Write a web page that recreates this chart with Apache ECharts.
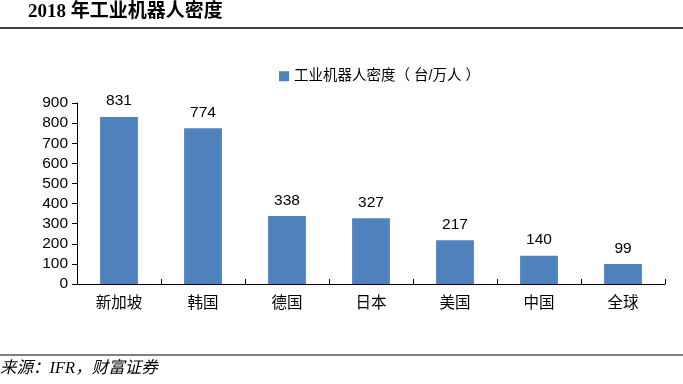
<!DOCTYPE html>
<html><head><meta charset="utf-8">
<script src="https://cdn.jsdelivr.net/npm/echarts@6/dist/echarts.min.js"></script>
<style>html,body{margin:0;padding:0;background:#fff}#c{width:683px;height:384px}</style>
</head><body><div id="c"></div>
<script>
var categories = ['新加坡','韩国','德国','日本','美国','中国','全球'];
var values = [831, 774, 338, 327, 217, 140, 99];
var seriesName = '工业机器人密度（ 台/万人 ）';
var titleText = '2018 年工业机器人密度';
var sourceText = '来源：IFR，财富证券';

var chart = echarts.init(document.getElementById('c'));
var font = "'Liberation Sans','Noto Sans CJK SC',sans-serif";
chart.setOption({
  animation: false,
  backgroundColor: '#fff',
  legend: {
    data: [seriesName], left: 274, top: 64, itemWidth: 10, itemHeight: 10, itemGap: 2,
    icon: 'rect', textStyle: { fontSize: 14.5, color: '#000', fontFamily: font }
  },
  grid: { left: 77, right: 18, top: 103, bottom: 100 },
  xAxis: {
    type: 'category', data: categories,
    axisLine: { lineStyle: { color: '#000', width: 1 } },
    axisTick: { show: true, length: 5, inside: true, lineStyle: { color: '#000' } },
    axisLabel: { fontSize: 15.5, color: '#000', fontFamily: font, margin: 12 }
  },
  yAxis: {
    type: 'value', min: 0, max: 900, interval: 100,
    axisLine: { show: true, lineStyle: { color: '#000' } },
    axisTick: { show: true, length: 5, lineStyle: { color: '#000' } },
    splitLine: { show: false },
    axisLabel: { fontSize: 15.5, color: '#000', fontFamily: font, margin: 9 }
  },
  series: [{
    name: seriesName, type: 'bar', data: values, barWidth: '45%',
    itemStyle: { color: '#4F81BD' },
    label: { show: true, position: 'top', distance: 8, fontSize: 15.5, color: '#000', fontFamily: font }
  }],
  graphic: [
    { type: 'text', left: 28, top: 3, style: { text: titleText, font: "bold 19px 'Liberation Serif','Noto Sans CJK SC',serif", fill: '#000' } },
    { type: 'line', shape: { x1: 0, y1: 28, x2: 683, y2: 28 }, style: { stroke: '#000', lineWidth: 1.5 } },
    { type: 'line', shape: { x1: 0, y1: 355, x2: 683, y2: 355 }, style: { stroke: '#000', lineWidth: 1 } },
    { type: 'text', left: 0, top: 360, style: { text: sourceText, font: "italic 16.5px 'Liberation Serif','Noto Sans CJK SC',serif", fill: '#000' } }
  ]
});
</script></body></html>
